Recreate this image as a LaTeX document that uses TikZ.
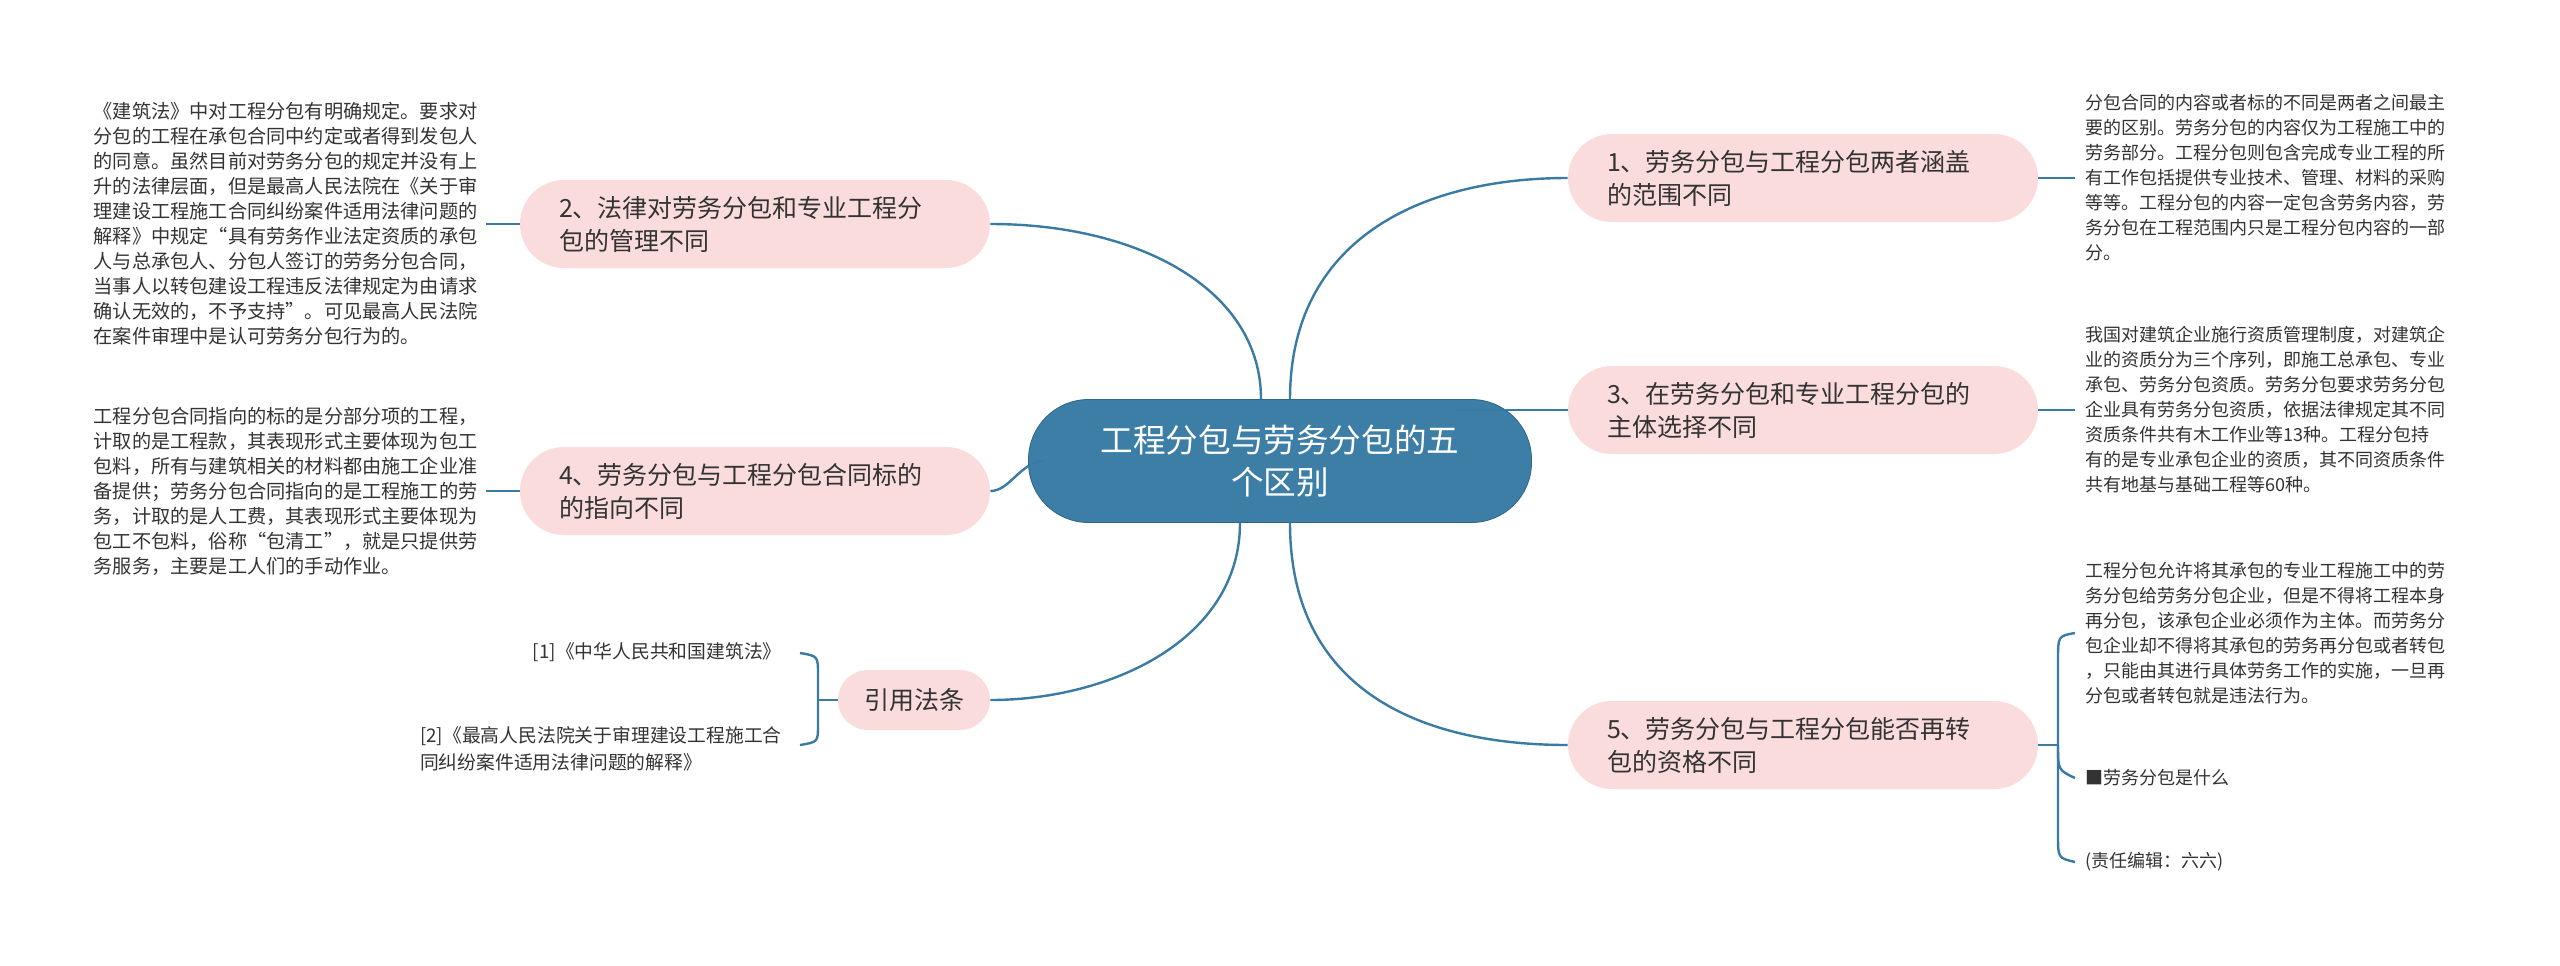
\documentclass[tikz,border=0pt]{standalone}
\usepackage{fontspec}
\setmainfont{Noto Sans CJK SC}
\begin{document}
\begin{tikzpicture}[x=0.5pt,y=-0.5pt,
  link/.style={draw=linkc,line width=1.2pt},
  center/.style={fill=centc,draw=centc!80!black,line width=0.4pt,rounded corners=30pt,minimum width=251.5pt,minimum height=61.5pt,text=white,font=\fontsize{16.3}{21}\selectfont,align=center,inner sep=0pt},
  branch/.style={fill=pinkc,rounded corners=22pt,minimum width=235pt,minimum height=44pt,text=txtc,font=\fontsize{12.5}{16.5}\selectfont,text width=196pt,align=left,inner sep=0pt},
  detail/.style={text=txtc,font=\fontsize{9}{12.5}\selectfont,align=left,inner sep=0pt},
  detailL/.style={text=txtc,font=\fontsize{9.6}{12.5}\selectfont,align=left,inner sep=0pt},
  cite/.style={text=txtc,font=\fontsize{9.4}{13.5}\selectfont,inner sep=0pt}]
\definecolor{linkc}{HTML}{3A7BA3}
\definecolor{centc}{HTML}{3D7EA6}
\definecolor{pinkc}{HTML}{FBDCDC}
\definecolor{txtc}{HTML}{333333}
\useasboundingbox (0,0) rectangle (2560,965);
\fill[white] (0,0) rectangle (2560,965);

\node[center] (c) at (1280,461) {工程分包与劳务分包的五\\个区别};

\node[branch] (b1) at (1803,178) {1、劳务分包与工程分包两者涵盖\\的范围不同};
\node[branch] (b3) at (1803,410) {3、在劳务分包和专业工程分包的\\主体选择不同};
\node[branch] (b5) at (1803,745) {5、劳务分包与工程分包能否再转\\包的资格不同};
\node[branch] (b2) at (755,224) {2、法律对劳务分包和专业工程分\\包的管理不同};
\node[branch] (b4) at (755,491) {4、劳务分包与工程分包合同标的\\的指向不同};
\node[branch,minimum width=76pt,text width=,align=center,minimum height=30pt,rounded corners=15pt] (b6) at (914,700) {引用法条};

\node[detail,anchor=west] (d1) at (2085,178) {分包合同的内容或者标的不同是两者之间最主\\要的区别。劳务分包的内容仅为工程施工中的\\劳务部分。工程分包则包含完成专业工程的所\\有工作包括提供专业技术、管理、材料的采购\\等等。工程分包的内容一定包含劳务内容，劳\\务分包在工程范围内只是工程分包内容的一部\\分。};
\node[detail,anchor=west] (d3) at (2085,410) {我国对建筑企业施行资质管理制度，对建筑企\\业的资质分为三个序列，即施工总承包、专业\\承包、劳务分包资质。劳务分包要求劳务分包\\企业具有劳务分包资质，依据法律规定其不同\\资质条件共有木工作业等13种。工程分包持\\有的是专业承包企业的资质，其不同资质条件\\共有地基与基础工程等60种。};
\node[detail,anchor=west] (d5a) at (2085,633) {工程分包允许将其承包的专业工程施工中的劳\\务分包给劳务分包企业，但是不得将工程本身\\再分包，该承包企业必须作为主体。而劳务分\\包企业却不得将其承包的劳务再分包或者转包\\，只能由其进行具体劳务工作的实施，一旦再\\分包或者转包就是违法行为。};
\node[detail,anchor=west] (d5b) at (2085,778) {■劳务分包是什么};
\node[detail,anchor=west] (d5c) at (2085,862) {(责任编辑：六六)};
\node[detailL,anchor=east] (d2) at (478,224) {《建筑法》中对工程分包有明确规定。要求对\\分包的工程在承包合同中约定或者得到发包人\\的同意。虽然目前对劳务分包的规定并没有上\\升的法律层面，但是最高人民法院在《关于审\\理建设工程施工合同纠纷案件适用法律问题的\\解释》中规定“具有劳务作业法定资质的承包\\人与总承包人、分包人签订的劳务分包合同，\\当事人以转包建设工程违反法律规定为由请求\\确认无效的，不予支持”。可见最高人民法院\\在案件审理中是认可劳务分包行为的。};
\node[detailL,anchor=east] (d4) at (478,491) {工程分包合同指向的标的是分部分项的工程，\\计取的是工程款，其表现形式主要体现为包工\\包料，所有与建筑相关的材料都由施工企业准\\备提供；劳务分包合同指向的是工程施工的劳\\务，计取的是人工费，其表现形式主要体现为\\包工不包料，俗称“包清工”，就是只提供劳\\务服务，主要是工人们的手动作业。};
\node[cite,anchor=east] (r1) at (782,652) {[1]《中华人民共和国建筑法》};
\node[cite,anchor=north east,align=left] (r2) at (782,726) {[2]《最高人民法院关于审理建设工程施工合\\同纠纷案件适用法律问题的解释》};

% main connectors
\draw[link] (c.north) ++(10,0) .. controls (1290,240) and (1420,178) .. (b1.west);
\draw[link] ([xshift=-38pt]c.east |- b3.west) -- (b3.west);
\draw[link] (c.south) ++(10,0) .. controls (1290,690) and (1420,745) .. (b5.west);
\draw[link] (c.north) ++(-19,0) .. controls (1261,290) and (1140,224) .. (b2.east);
\draw[link] (c.west) ++(16,0) .. controls (1020,462) and (1010,491) .. (b4.east);
\draw[link] (c.south) ++(-40,0) .. controls (1240,640) and (1110,700) .. (b6.east);

% detail connectors
\draw[link] (b1.east) -- (2075,178);
\draw[link] (b3.east) -- (2075,410);
\draw[link] (b2.west) -- (486,224);
\draw[link] (b4.west) -- (486,491);
\coordinate (k5) at (2058,745);
\draw[link] (b5.east) -- (k5);
\draw[link] (2075,633) .. controls (2058,636) .. (2058,660) -- (2058,835) .. controls (2058,858) .. (2075,862);
\draw[link] (k5) .. controls (2058,770) .. (2075,778);
\coordinate (k6) at (818,700);
\draw[link] (b6.west) -- (k6);
\draw[link] (800,653) .. controls (818,656) .. (818,675) -- (818,725) .. controls (818,742) .. (800,745);
\end{tikzpicture}
\end{document}
